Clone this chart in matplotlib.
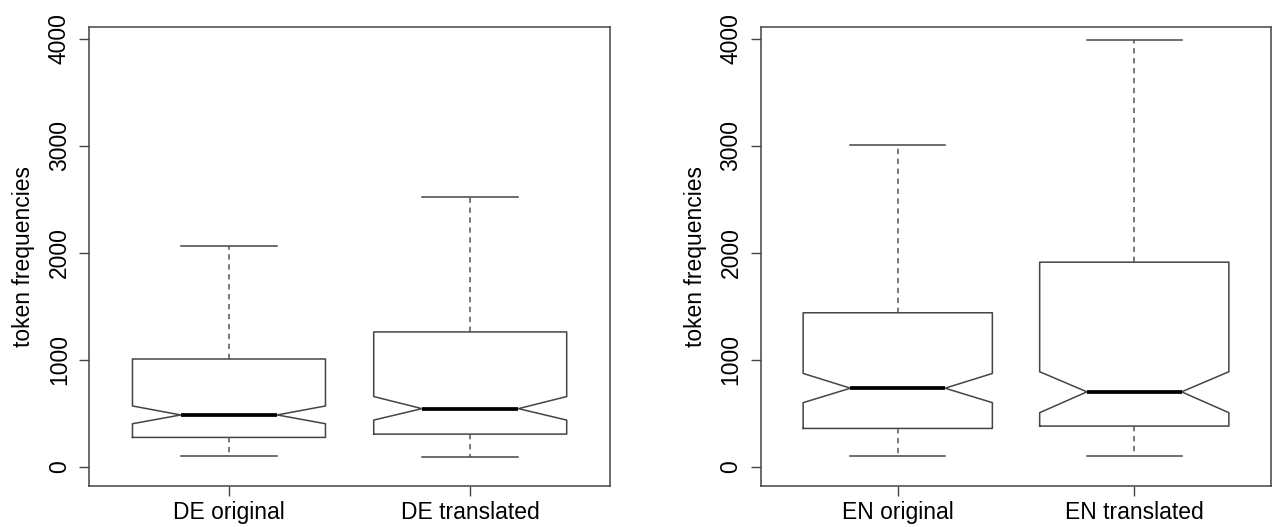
import matplotlib.pyplot as plt

# box statistics (token frequencies)
de_labels = ['DE original', 'DE translated']
de_med = [486, 545]
de_q1 = [276, 307]
de_q3 = [1009, 1262]
de_cilo = [404, 438]
de_cihi = [570, 658]
de_whislo = [100, 94]
de_whishi = [2067, 2522]

en_labels = ['EN original', 'EN translated']
en_med = [736, 702]
en_q1 = [360, 382]
en_q3 = [1441, 1914]
en_cilo = [601, 507]
en_cihi = [874, 890]
en_whislo = [100, 100]
en_whishi = [3007, 3991]

yticks = [0, 1000, 2000, 3000, 4000]

plt.rcParams['font.family'] = ['Liberation Sans', 'DejaVu Sans']

fig = plt.figure(figsize=(12.74, 5.27), dpi=100)
ax1 = fig.add_axes([0.0699, 0.0778, 0.409, 0.871])
ax2 = fig.add_axes([0.597, 0.0778, 0.401, 0.871])

edge = '#444444'


def draw(ax, labels, med, q1, q3, cilo, cihi, lo, hi):
    stats = []
    for i in range(len(labels)):
        stats.append(dict(med=med[i], q1=q1[i], q3=q3[i], cilo=cilo[i], cihi=cihi[i],
                          whislo=lo[i], whishi=hi[i], fliers=[], label=labels[i]))
    ax.bxp(stats, positions=[1, 2], widths=0.8, shownotches=True, showfliers=False,
           boxprops=dict(color=edge, linewidth=1.1),
           whiskerprops=dict(color='#555555', linewidth=1.1, linestyle=(0, (3.5, 3))),
           capprops=dict(color=edge, linewidth=1.1),
           medianprops=dict(color='black', linewidth=2.7, solid_capstyle='butt'))
    ax.set_xlim(0.42, 2.58)
    ax.set_ylim(-178, 4112)
    ax.set_yticks(yticks)
    ax.set_yticklabels([str(t) for t in yticks], rotation=90, va='center')
    ax.set_xticks([1, 2])
    ax.set_xticklabels(labels)
    ax.tick_params(axis='both', labelsize=16.5, length=7, width=1, color=edge, pad=4)
    ax.tick_params(axis='y', pad=6)
    for s in ax.spines.values():
        s.set_color(edge)
        s.set_linewidth(1.1)
    ax.set_ylabel('token frequencies', fontsize=16.5, labelpad=9)


draw(ax1, de_labels, de_med, de_q1, de_q3, de_cilo, de_cihi, de_whislo, de_whishi)
draw(ax2, en_labels, en_med, en_q1, en_q3, en_cilo, en_cihi, en_whislo, en_whishi)

plt.savefig('out.png', dpi=100)
